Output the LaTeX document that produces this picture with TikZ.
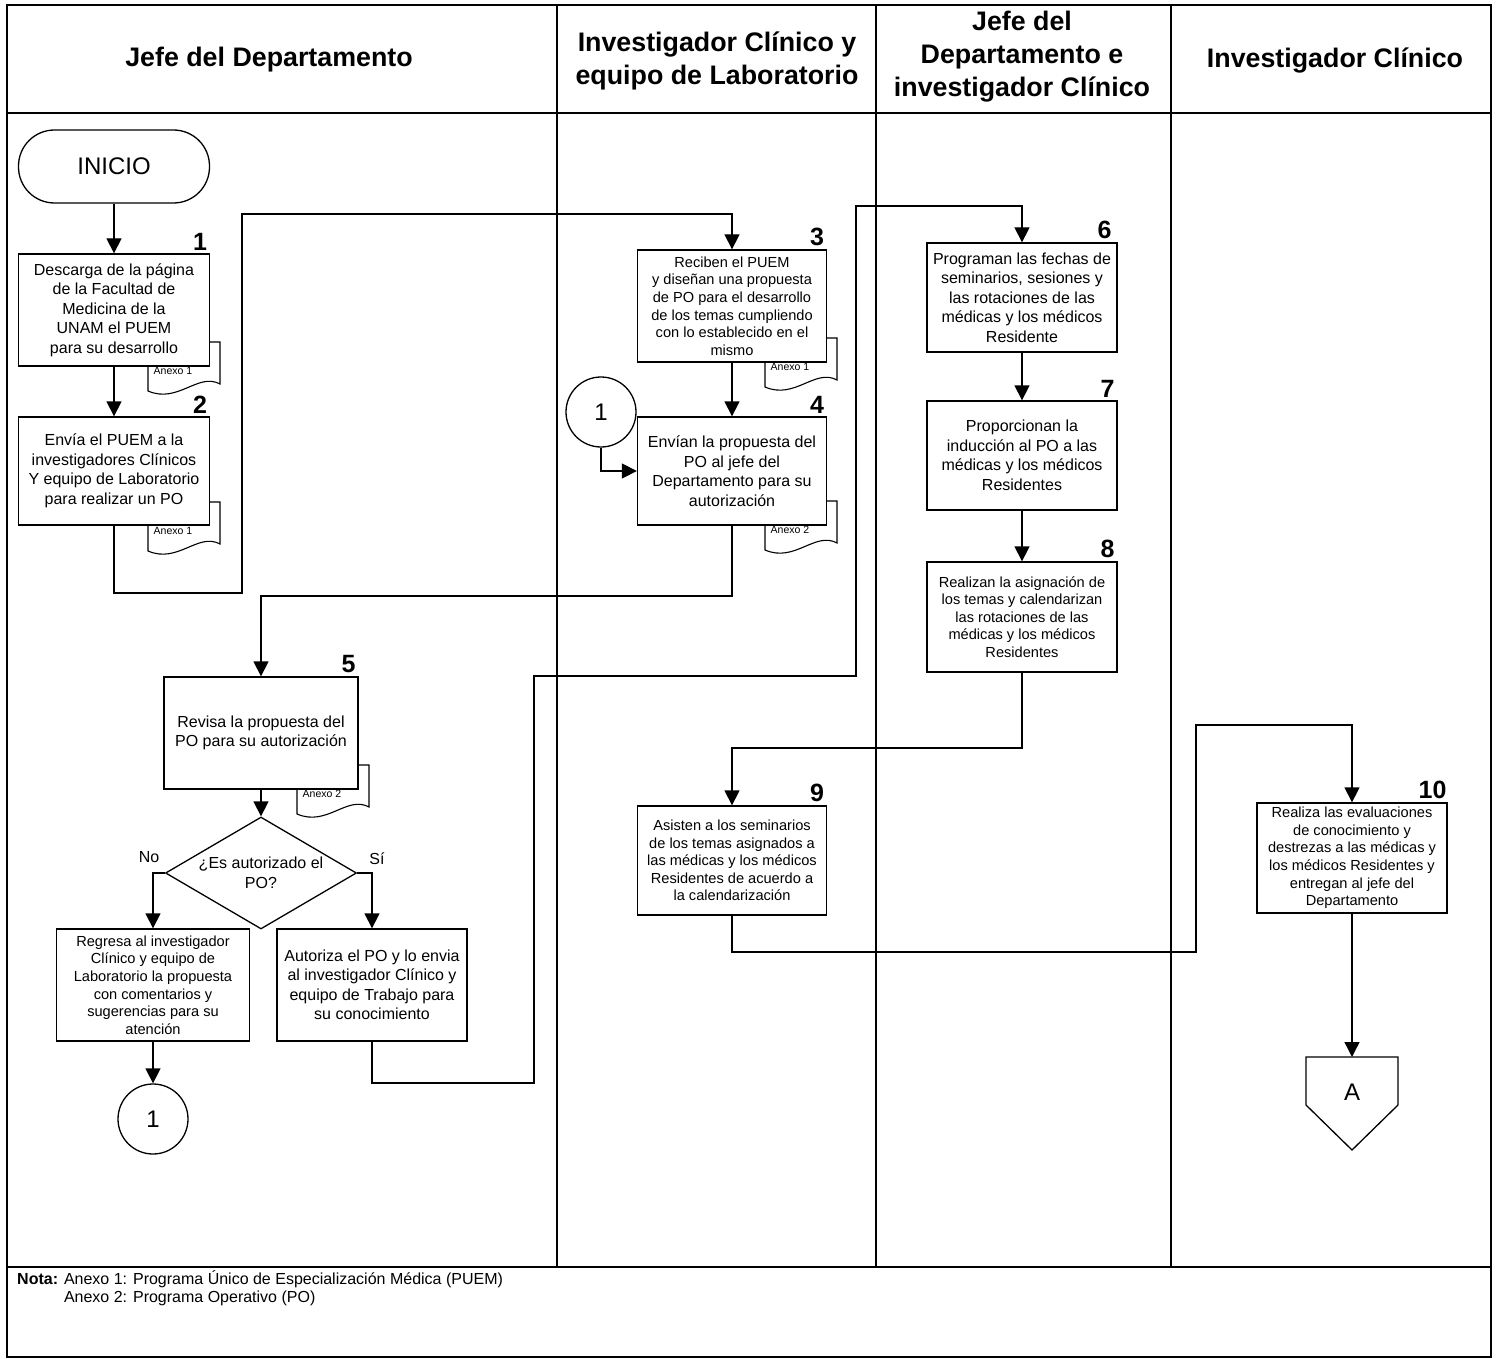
\documentclass[tikz,border=0pt]{standalone}
\usepackage{fontspec}
\setmainfont{Liberation Sans}
\usetikzlibrary{arrows.meta,shapes.geometric,calc}
\newcommand{\anexodoc}[3]{%
  \draw[docsh] (#1,#2) -- (#1+72,#2) -- (#1+72,#2+42) .. controls (#1+50,#2+30) and (#1+30,#2+62) .. (#1,#2+49) -- cycle;
  \node[anx] at (#1+25,#2+29) {#3};}
\begin{document}
\begin{tikzpicture}[x=1pt,y=-1pt,
  box/.style={draw, fill=white, line width=1.3pt, align=center, inner sep=0pt},
  fA/.style={font=\fontsize{16}{19.5}\selectfont},
  fB/.style={font=\fontsize{14.6}{17.6}\selectfont},
  arr/.style={line width=1.3pt, -{Triangle[width=15pt,length=15pt]}},
  ln/.style={line width=1.3pt},
  num/.style={font=\fontsize{25}{25}\selectfont\bfseries, anchor=south east, inner sep=0pt},
  hdr/.style={font=\fontsize{26.8}{33}\selectfont\bfseries, align=center},
  docsh/.style={draw, fill=white, line width=1.1pt},
  anx/.style={font=\fontsize{10.5}{12}\selectfont, inner sep=0pt},
  lane/.style={line width=2.2pt}
]
\useasboundingbox (0,0) rectangle (1497,1359);
% frame and lanes
\draw[lane] (7,5) rectangle (1491,1357);
\draw[lane] (7,113) -- (1491,113);
\draw[lane] (7,1267) -- (1491,1267);
\draw[lane] (557,5) -- (557,1267);
\draw[lane] (876,5) -- (876,1267);
\draw[lane] (1171,5) -- (1171,1267);
% headers
\node[hdr] (h1) at (269,60) {Jefe del Departamento};
\node[hdr] (h2) at (717,60.5) {Investigador Clínico y\\equipo de Laboratorio};
\node[hdr] (h3) at (1022,57) {Jefe del\\Departamento e\\investigador Clínico};
\node[hdr] (h4) at (1335,61) {Investigador Clínico};
% document shapes
\anexodoc{148}{342}{Anexo 1}
\anexodoc{148}{502}{Anexo 1}
\anexodoc{765}{338}{Anexo 1}
\anexodoc{765}{501}{Anexo 2}
\anexodoc{297}{765}{Anexo 2}
% nodes
\node[draw, line width=1.3pt, rounded corners=36pt, minimum width=191pt, minimum height=73pt, font=\fontsize{24}{24}\selectfont] (ini) at (114,166.5) {INICIO};
\node[box,fA,minimum width=191pt,minimum height=112pt] (b1) at (114,310) {Descarga de la página\\de la Facultad de\\Medicina de la\\UNAM el PUEM\\para su desarrollo};
\node[box,fA,minimum width=191pt,minimum height=108pt] (b2) at (114,471) {Envía el PUEM a la\\investigadores Clínicos\\Y equipo de Laboratorio\\para realizar un PO};
\node[box,fB,minimum width=189pt,minimum height=112pt] (b3) at (732,306) {Reciben el PUEM\\y diseñan una propuesta\\de PO para el desarrollo\\de los temas cumpliendo\\con lo establecido en el\\mismo};
\node[box,fA,minimum width=189pt,minimum height=108pt] (b4) at (732,471) {Envían la propuesta del\\PO al jefe del\\Departamento para su\\autorización};
\node[draw, circle, line width=1.3pt, minimum size=70pt, inner sep=0pt, font=\fontsize{24}{24}\selectfont] (c1) at (601,412) {1};
\node[box,fA,minimum width=194pt,minimum height=112pt] (b5) at (261,733) {Revisa la propuesta del\\PO para su autorización};
\node[draw, diamond, line width=1.3pt, minimum width=191pt, minimum height=112pt, inner sep=0pt, aspect=1.7,
  label={[fA,align=center]center:¿Es autorizado el\\PO?}] (d) at (261,873) {};
\node[fA] (no) at (149,857) {No};
\node[fA] (si) at (377,859) {Sí};
\node[box,fB,minimum width=193pt,minimum height=112pt] (rg) at (153,985) {Regresa al investigador\\Clínico y equipo de\\Laboratorio la propuesta\\con comentarios y\\sugerencias para su\\atención};
\node[box,fA,minimum width=190pt,minimum height=112pt] (au) at (372,985) {Autoriza el PO y lo envia\\al investigador Clínico y\\equipo de Trabajo para\\su conocimiento};
\node[draw, circle, line width=1.3pt, minimum size=70pt, inner sep=0pt, font=\fontsize{24}{24}\selectfont] (c2) at (153,1119) {1};
\node[box,fA,minimum width=190pt,minimum height=109pt] (b6) at (1022,297.5) {Programan las fechas de\\seminarios, sesiones y\\las rotaciones de las\\médicas y los médicos\\Residente};
\node[box,fA,minimum width=190pt,minimum height=109pt] (b7) at (1022,455.5) {Proporcionan la\\inducción al PO a las\\médicas y los médicos\\Residentes};
\node[box,fB,minimum width=190pt,minimum height=110pt] (b8) at (1022,617) {Realizan la asignación de\\los temas y calendarizan\\las rotaciones de las\\médicas y los médicos\\Residentes};
\node[box,fB,minimum width=189pt,minimum height=109pt] (b9) at (732,860.5) {Asisten a los seminarios\\de los temas asignados a\\las médicas y los médicos\\Residentes de acuerdo a\\la calendarización};
\node[box,fB,minimum width=190pt,minimum height=110pt] (b10) at (1352,858) {Realiza las evaluaciones\\de conocimiento y\\destrezas a las médicas y\\los médicos Residentes y\\entregan al jefe del\\Departamento};
\node[font=\fontsize{24}{24}\selectfont, inner sep=0pt] (A) at (1352,1092) {A};
\coordinate (Atop) at (1352,1057);
\draw[ln] (Atop) -- (1398,1057) -- (1398,1105) -- (1352,1150) -- (1306,1105) -- (1306,1057) -- cycle;
% numbers
\node[num] (n1) at ([xshift=-3pt,yshift=3pt]b1.north east) {1};
\node[num] (n2) at ([xshift=-3pt,yshift=3pt]b2.north east) {2};
\node[num] (n3) at ([xshift=-3pt,yshift=3pt]b3.north east) {3};
\node[num] (n4) at ([xshift=-3pt,yshift=3pt]b4.north east) {4};
\node[num] (n5) at ([xshift=-3pt,yshift=3pt]b5.north east) {5};
\node[num] (n6) at ([xshift=-6pt,yshift=3pt]b6.north east) {6};
\node[num] (n7) at ([xshift=-3pt,yshift=3pt]b7.north east) {7};
\node[num] (n8) at ([xshift=-3pt,yshift=3pt]b8.north east) {8};
\node[num] (n9) at ([xshift=-3pt,yshift=3pt]b9.north east) {9};
\node[num] (n10) at ([xshift=-1pt,yshift=3pt]b10.north east) {10};
% waypoints
\coordinate (w1) at (242,593);
\coordinate (w2) at (242,214);
\coordinate (w3) at (261,596);
\coordinate (w4) at (534,1083);
\coordinate (w5) at (534,676);
\coordinate (w6) at (856,676);
\coordinate (w7) at (856,206);
\coordinate (w8) at (732,748);
\coordinate (w9) at (1196,952);
\coordinate (w10) at (1196,725);
% connectors
\draw[arr] (ini.south) -- (b1.north);
\draw[arr] (b1.south) -- (b2.north);
\draw[arr] (b2.south) |- (w1) -- (w2) -| (b3.north);
\draw[arr] (b3.south) -- (b4.north);
\draw[arr] (c1.south) |- (b4.west);
\draw[arr] (b4.south) |- (w3) -- (b5.north);
\draw[arr] (b5.south) -- (d.north);
\draw[arr] (d.west) -| (rg.north);
\draw[arr] (d.east) -| (au.north);
\draw[arr] (rg.south) -- (c2.north);
\draw[arr] (au.south) |- (w4) -- (w5) -- (w6) -- (w7) -| (b6.north);
\draw[arr] (b6.south) -- (b7.north);
\draw[arr] (b7.south) -- (b8.north);
\draw[arr] (b8.south) |- (w8) -- (b9.north);
\draw[arr] (b9.south) |- (w9) -- (w10) -| (b10.north);
\draw[arr] (b10.south) -- (Atop);
% note
\node[anchor=north west, inner sep=0pt, font=\fontsize{16}{18.5}\selectfont] (nota) at (17,1270)
  {\begin{tabular}{@{}l@{ }l@{}}\textbf{Nota:} & Anexo 1: Programa Único de Especialización Médica (PUEM)\\ & Anexo 2: Programa Operativo (PO)\end{tabular}};
\end{tikzpicture}
\end{document}
